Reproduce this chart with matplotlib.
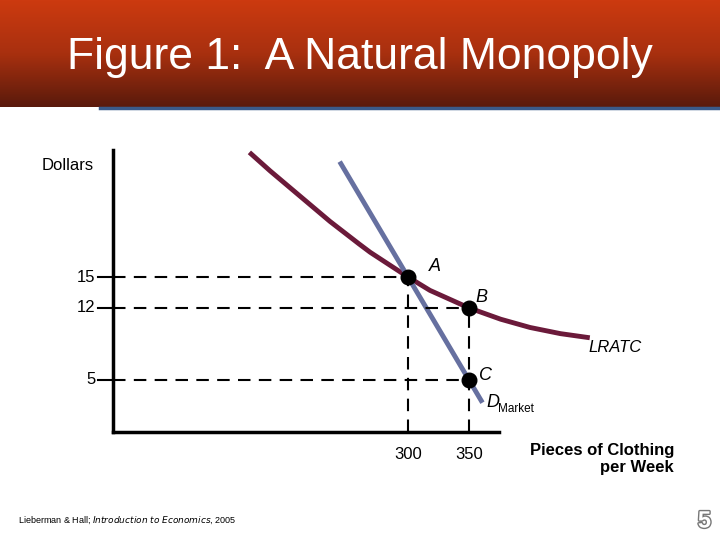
import matplotlib
matplotlib.use("Agg")
import matplotlib.pyplot as plt
import numpy as np
import matplotlib.patheffects as pe
from matplotlib.colors import LinearSegmentedColormap
plt.rcParams['font.family'] = ['Liberation Sans', 'DejaVu Sans']

lratc_x = [170, 187, 220, 236, 260, 269, 300, 318, 350, 376, 400, 425, 449]
lratc_y = [27.1, 25.3, 22.0, 20.4, 18.2, 17.4, 15, 13.7, 12, 10.9, 10.1, 9.5, 9.1]
dem_x = [245, 300, 350, 360]
dem_y = [26, 15, 5, 3]
pts_x = [300, 350, 350]
pts_y = [15, 12, 5]
pts_lab = ["A", "B", "C"]
yticks = [15, 12, 5]
xticks = [300, 350]

fig = plt.figure(figsize=(7.2, 5.4), dpi=100)
hax = fig.add_axes([0, 1 - 107/540, 1, 107/540])
grad = np.linspace(0, 1, 100).reshape(-1, 1)
cm = LinearSegmentedColormap.from_list("h", ["#5a1a0c", "#a8300f", "#cc3a10"])
hax.imshow(grad, aspect="auto", cmap=cm, extent=[0, 1, 0, 1], origin="lower")
hax.axis("off")
fig.text(0.5, 1 - 57/540, "Figure 1:  A Natural Monopoly", color="white",
         fontsize=32, ha="center", va="center")
fig.add_artist(plt.Line2D([100/720, 1], [1 - 108/540]*2, color="#3a5a8a", lw=2.5))

x0, x1 = 58, 560
y0, y1 = 0, 30
left = (42 + 1.22*x0)/720
width = 1.22*(x1-x0)/720
bottom = 1 - 431.5/540
height = 10.3*(y1-y0)/540
ax = fig.add_axes([left, bottom, width, height])
ax.set_xlim(x0, x1); ax.set_ylim(y0, y1)
for s in ["top", "right"]:
    ax.spines[s].set_visible(False)
ax.spines["left"].set_bounds(0, 27.3)
ax.spines["bottom"].set_bounds(x0, 375)
for s in ["left", "bottom"]:
    ax.spines[s].set_linewidth(2.5)
ax.set_xticks([]); ax.set_yticks([])

ax.plot(lratc_x, lratc_y, color="#6b1a3a", lw=3.5, solid_capstyle="butt", solid_joinstyle="round")
ax.plot(dem_x, dem_y, color="#6670a0", lw=3.5)
for x, y, l in zip(pts_x, pts_y, pts_lab):
    ax.plot([x0, x], [y, y], "k--", lw=1.5, dashes=(6, 4))
for x in xticks:
    ax.plot([x, x], [0, max(py for px, py in zip(pts_x, pts_y) if px == x)], "k--", lw=1.5, dashes=(6, 4))
ax.scatter(pts_x, pts_y, s=110, color="black", zorder=5)
offs = {"A": (17, 1.0), "B": (5, 1.0), "C": (8, 0.4)}
for x, y, l in zip(pts_x, pts_y, pts_lab):
    ax.text(x + offs[l][0], y + offs[l][1], l, fontsize=13, fontstyle="italic", va="center")
for y in yticks:
    ax.text(x0 - 14, y, str(y), fontsize=12, ha="right", va="center")
    ax.plot([x0 - 12, x0], [y, y], "k-", lw=1.5, clip_on=False)
for x in xticks:
    ax.text(x, -2.2, str(x), fontsize=12, ha="center", va="center")
ax.text(x0 - 58, 25.8, "Dollars", fontsize=12, va="center", clip_on=False)
ax.text(448, 8.9, "LRATC", fontsize=12, fontstyle="italic", ha="left", va="top")
ax.text(364, 2.8, "D", fontsize=13, fontstyle="italic", va="center")
ax.text(374, 2.2, "Market", fontsize=8.5, va="center")
ax.text((674-42)/1.22, -2.7, "Pieces of Clothing\nper Week", fontsize=12,
        fontweight="bold", ha="right", va="center", multialignment="right", linespacing=1.15)

fig.text(18/720, 1 - 520/540, "Lieberman & Hall; $\\it{Introduction\\ to\\ Economics}$, 2005",
         fontsize=6.5, va="center")
fig.text(711/720, 1 - 521/540, "5", fontsize=17, fontweight="bold", color="white", ha="right", va="center",
         path_effects=[pe.withStroke(linewidth=2, foreground="#777777")])
fig.savefig("out.png", dpi=100)
